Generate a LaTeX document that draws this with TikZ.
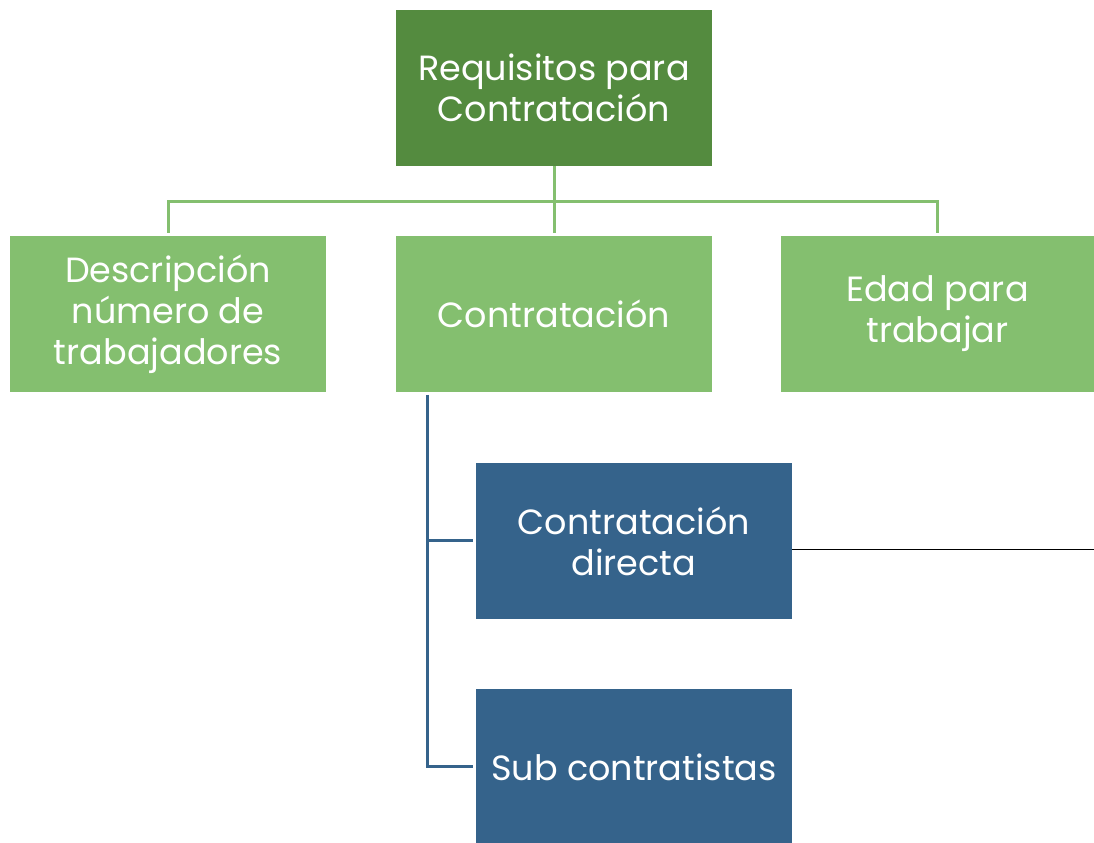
\documentclass[tikz,border=0pt]{standalone}
\usepackage{fontspec}
\setmainfont{Poppins}
\usepackage{tikz}
\usetikzlibrary{positioning}

\definecolor{topgreen}{HTML}{548B3F}
\definecolor{lightgreen}{HTML}{84BF6F}
\definecolor{darkblue}{HTML}{35638B}

\begin{document}
\begin{tikzpicture}[
			x=0.5pt, y=0.5pt,
			box/.style={rectangle, text=white, align=center, inner sep=0pt, minimum width=158pt, minimum height=78pt, font=\fontsize{17.5}{20.5}\selectfont},
			topbox/.style={box, fill=topgreen},
			greenbox/.style={box, fill=lightgreen},
			bluebox/.style={box, fill=darkblue},
			greenline/.style={draw=lightgreen, line width=1.5pt},
			blueline/.style={draw=darkblue, line width=1.5pt},
		]
		
			\useasboundingbox (0,0) rectangle (1094,842);
		
			%Nodes
			\node[topbox]		(req)		at (554,754)	{Requisitos para\\Contratación};
			\node[greenbox]		(desc)		at (168,528)	{Descripción\\número de\\trabajadores};
			\node[greenbox]		(contr)		at (554,528)	{Contratación};
			\node[greenbox, minimum width=156.5pt]	(edad)	at (937.5,528)	{Edad para\\trabajar};
			\node[bluebox]		(directa)	at (634,301)	{Contratación\\directa};
			\node[bluebox]		(sub)		at (634,75)	{Sub contratistas};
		
			\coordinate (bar)	at (554,640);
			\coordinate (trunk)	at (427,447);
			\coordinate (edge)	at (1094,292);
		
			%Lines
			\draw[greenline]	(req.south) -- (bar);
			\draw[greenline]	(bar) -| ([yshift=1.5pt]desc.north);
			\draw[greenline]	(bar) -- ([yshift=1.5pt]contr.north);
			\draw[greenline]	(bar) -| ([yshift=1.5pt]edad.north);
			\draw[blueline]		(trunk) |- ([xshift=-1.5pt]directa.west);
			\draw[blueline]		(trunk) |- ([xshift=-1.5pt]sub.west);
			\draw[black, line width=0.5pt]	(directa.east |- edge) -- (edge);
		
		\end{tikzpicture}
\end{document}
